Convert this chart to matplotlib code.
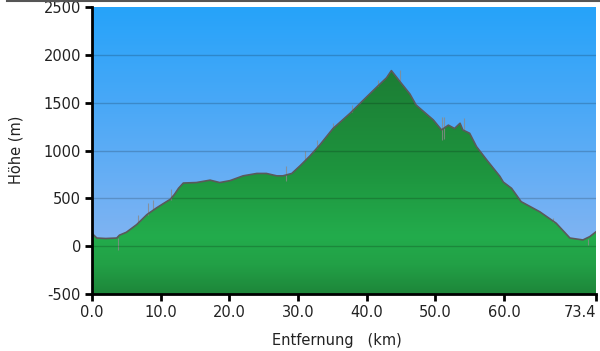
import numpy as np
import matplotlib
matplotlib.use("Agg")
import matplotlib.pyplot as plt
from matplotlib.patches import Polygon
from matplotlib.colors import LinearSegmentedColormap

plt.rcParams["axes.unicode_minus"] = False

# Profil: Entfernung (km) und Höhe (m)
km = [0.0, 0.2, 0.7, 2.0, 3.6, 4.0, 5.0, 6.5, 8.0, 9.4, 10.5, 11.4, 12.0, 12.6,
      13.3, 15.2, 17.2, 18.6, 20.1, 22.0, 24.0, 25.4, 26.9, 27.8, 29.1, 30.3,
      31.7, 33.2, 35.1, 37.6, 39.5, 41.5, 42.9, 43.6, 44.8, 46.3, 47.2, 49.7,
      50.9, 51.9, 52.8, 53.6, 54.0, 55.0, 56.0, 57.5, 59.4, 59.9, 61.1, 62.5,
      65.2, 67.6, 69.6, 71.5, 72.5, 73.4]
hoehe = [140, 120, 85, 80, 85, 115, 145, 225, 330, 400, 450, 490, 540, 605,
         660, 665, 690, 665, 685, 735, 760, 760, 735, 735, 760, 840,
         940, 1060, 1230, 1390, 1525, 1665, 1760, 1835, 1725, 1590, 1475, 1320,
         1215, 1265, 1230, 1285, 1215, 1180, 1040, 900, 730, 670, 605, 465,
         360, 240, 85, 65, 100, 150]

# Messausreißer (km, von, bis)
spike_km = [3.8, 6.7, 8.2, 8.9, 11.5, 28.3, 31.0, 32.7, 35.1, 37.8, 41.7, 44.8,
            50.9, 51.3, 54.2, 67.1, 72.3]
spike_lo = [85, 240, 330, 380, 480, 680, 900, 1030, 1230, 1400, 1670, 1725,
            1110, 1120, 1215, 250, 15]
spike_hi = [-35, 330, 450, 485, 600, 840, 1000, 1110, 1285, 1475, 1735, 1840,
            1350, 1350, 1335, 295, 80]

y_ticks = [-500, 0, 500, 1000, 1500, 2000, 2500]
x_ticks = [0.0, 10.0, 20.0, 30.0, 40.0, 50.0, 60.0, 73.4]
x_labels = ["0.0", "10.0", "20.0", "30.0", "40.0", "50.0", "60.0", "73.4"]

fig = plt.figure(figsize=(6.0, 3.51), dpi=100)
ax = fig.add_axes([92 / 600, 1 - 294 / 351, 504 / 600, 287 / 351])
ax.set_xlim(0, 73.4)
ax.set_ylim(-500, 2500)

# Himmel (Farbverlauf)
sky = LinearSegmentedColormap.from_list("sky", [
    (0.0, (140/255, 182/255, 240/255)),
    (0.17, (130/255, 180/255, 242/255)),
    (0.67, (72/255, 168/255, 247/255)),
    (1.0, (38/255, 163/255, 250/255))])
grad = np.linspace(0, 1, 256).reshape(-1, 1)
ax.imshow(grad, extent=[0, 73.4, -500, 2500], aspect="auto", origin="lower",
          cmap=sky, zorder=0)

# Gelände (grüner Verlauf, auf das Profil beschnitten)
green = LinearSegmentedColormap.from_list("green", [
    (0.0, (30/255, 134/255, 58/255)),
    (0.10, (34/255, 160/255, 70/255)),
    (0.20, (35/255, 172/255, 76/255)),
    (0.43, (30/255, 148/255, 62/255)),
    (0.80, (28/255, 124/255, 52/255)),
    (1.0, (26/255, 115/255, 48/255))])
img = ax.imshow(grad, extent=[0, 73.4, -500, 2500], aspect="auto",
                origin="lower", cmap=green, zorder=1)
verts = np.column_stack([km + [km[-1], km[0]], hoehe + [-500, -500]])
poly = Polygon(verts, closed=True, facecolor="none", edgecolor="none")
ax.add_patch(poly)
img.set_clip_path(poly)

ax.vlines(spike_km, spike_lo, spike_hi, color="#8a8a8a", lw=0.8, alpha=0.8, zorder=2)
ax.plot(km, hoehe, color="#5a5a5a", lw=1.2, zorder=3)

for y in y_ticks[1:-1]:
    ax.axhline(y, color="black", alpha=0.18, lw=1, zorder=2.5)

for s in ["top", "right"]:
    ax.spines[s].set_visible(False)
for s in ["left", "bottom"]:
    ax.spines[s].set_linewidth(2)
    ax.spines[s].set_zorder(5)

ax.set_yticks(y_ticks)
ax.set_xticks(x_ticks)
ax.set_xticklabels(x_labels)
ax.tick_params(axis="both", length=5, width=2, direction="out",
               labelsize=10.5, labelcolor="#222222", pad=3)
ax.get_xticklabels()[-1].set_horizontalalignment("right")

fig.text(16 / 600, 1 - 150 / 351, "Höhe (m)", rotation=90, ha="center",
         va="center", fontsize=10.5, color="#222222")
fig.text(337 / 600, 1 - 340 / 351, "Entfernung   (km)", ha="center",
         va="center", fontsize=10.5, color="#222222")

# Rahmenlinie oben
fig.add_artist(plt.Line2D([7 / 600, 1], [0.998, 0.998], color="#555555", lw=1.5))

fig.savefig("out.png", dpi=100)
